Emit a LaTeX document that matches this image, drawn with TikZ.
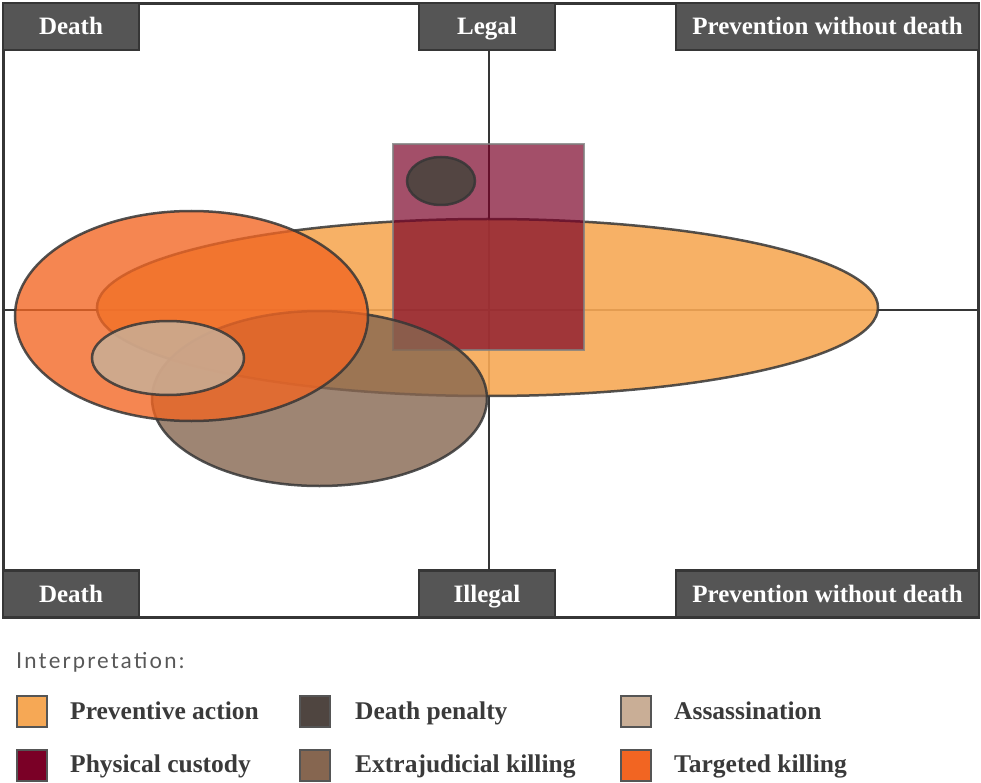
\documentclass[tikz,border=0pt]{standalone}
\usepackage{fontspec}
\setmainfont{Liberation Serif}
\newfontfamily\lgfont[LetterSpace=10]{Lato}
\usetikzlibrary{shapes.geometric}
\definecolor{boxgray}{HTML}{555555}
\definecolor{linegray}{HTML}{363636}
\definecolor{cPrev}{HTML}{F6A855}
\definecolor{cDeath}{HTML}{4F4540}
\definecolor{cAss}{HTML}{C9AE96}
\definecolor{cCust}{HTML}{7A0026}
\definecolor{cExtra}{HTML}{866650}
\definecolor{cTarg}{HTML}{F26522}
\definecolor{txtgray}{HTML}{3A3A3A}
\tikzset{
  lab/.style={draw=linegray, line width=2.5pt, fill=boxgray, text=white,
    font=\fontsize{25}{25}\selectfont\bfseries, inner sep=0pt,
    text height=17pt, text depth=0pt, minimum height=47pt},
  blob/.style={ellipse, inner sep=0pt, draw=linegray, draw opacity=0.85, line width=2.5pt},
  swatch/.style={draw=boxgray, line width=2pt, minimum width=30pt, minimum height=31pt, inner sep=0pt},
  legtext/.style={anchor=base west, text=txtgray, font=\fontsize{25.5}{25.5}\selectfont\bfseries, inner sep=0pt},
  axis/.style={draw=linegray, line width=2.8pt}
}
\begin{document}
\begin{tikzpicture}[x=1pt,y=-1pt]
\useasboundingbox (0,0) rectangle (981,783);
% frame
\node[draw=linegray, line width=3pt, minimum width=975pt, minimum height=614pt, inner sep=0pt] (frame) at (491,310.5) {};
% label boxes (placeholders for naming)
\node[lab, minimum width=136pt] (tdeath) at (71,26.5) {Death};
\node[lab, minimum width=136pt] (legal) at (487,26.5) {Legal};
\node[lab, minimum width=303pt] (tprev) at (827.5,26.5) {Prevention without death};
\node[lab, minimum width=136pt] (bdeath) at (71,594) {Death};
\node[lab, minimum width=136pt] (illegal) at (487,594) {Illegal};
\node[lab, minimum width=303pt] (bprev) at (827.5,594) {Prevention without death};
% axes
\coordinate (hl) at (3,310);
\coordinate (hr) at (979,310);
\draw[axis] (legal.south -| 489,0) -- (illegal.north -| 489,0);
\draw[axis] (hl) -- (hr);
% shapes
\node[blob, fill=cPrev, fill opacity=0.9, minimum width=781pt, minimum height=177pt] (prev) at (487.5,307.5) {};
\node[draw=gray, draw opacity=0.8, line width=2pt, fill=cCust, fill opacity=0.69, minimum width=191pt, minimum height=206pt, inner sep=0pt] (cust) at (488.5,247) {};
\node[blob, fill=cExtra, fill opacity=0.8, minimum width=335pt, minimum height=175pt] (extra) at (319.5,398.5) {};
\node[blob, fill=cTarg, fill opacity=0.79, minimum width=353pt, minimum height=210pt] (targ) at (191.5,316) {};
\node[blob, fill=cDeath, fill opacity=0.95, minimum width=68pt, minimum height=48pt] (dpen) at (441,181) {};
\node[blob, fill=cAss, fill opacity=0.85, minimum width=152pt, minimum height=74pt] (ass) at (168,358) {};
% label boxes drawn again on top of the shapes
\node[lab, minimum width=136pt] at (tdeath) {Death};
\node[lab, minimum width=136pt] at (legal) {Legal};
\node[lab, minimum width=303pt] at (tprev) {Prevention without death};
\node[lab, minimum width=136pt] at (bdeath) {Death};
\node[lab, minimum width=136pt] at (illegal) {Illegal};
\node[lab, minimum width=303pt] at (bprev) {Prevention without death};
% legend
\node[anchor=base west, inner sep=0pt, text=txtgray!85, font=\lgfont\fontsize{22}{22}\selectfont] (interp) at (16,668) {Interpretation:};
\node[swatch, fill=cPrev] (s1) at (32,711) {};
\node[legtext] (t1) at (70,719) {Preventive action};
\node[swatch, fill=cDeath] (s2) at (315,711) {};
\node[legtext] (t2) at (355,719) {Death penalty};
\node[swatch, fill=cAss] (s3) at (636,711) {};
\node[legtext] (t3) at (674,719) {Assassination};
\node[swatch, fill=cCust] (s4) at (32,765) {};
\node[legtext] (t4) at (70,772) {Physical custody};
\node[swatch, fill=cExtra] (s5) at (315,765) {};
\node[legtext] (t5) at (355,772) {Extrajudicial killing};
\node[swatch, fill=cTarg] (s6) at (636,765) {};
\node[legtext] (t6) at (674,772) {Targeted killing};
\end{tikzpicture}
\end{document}
